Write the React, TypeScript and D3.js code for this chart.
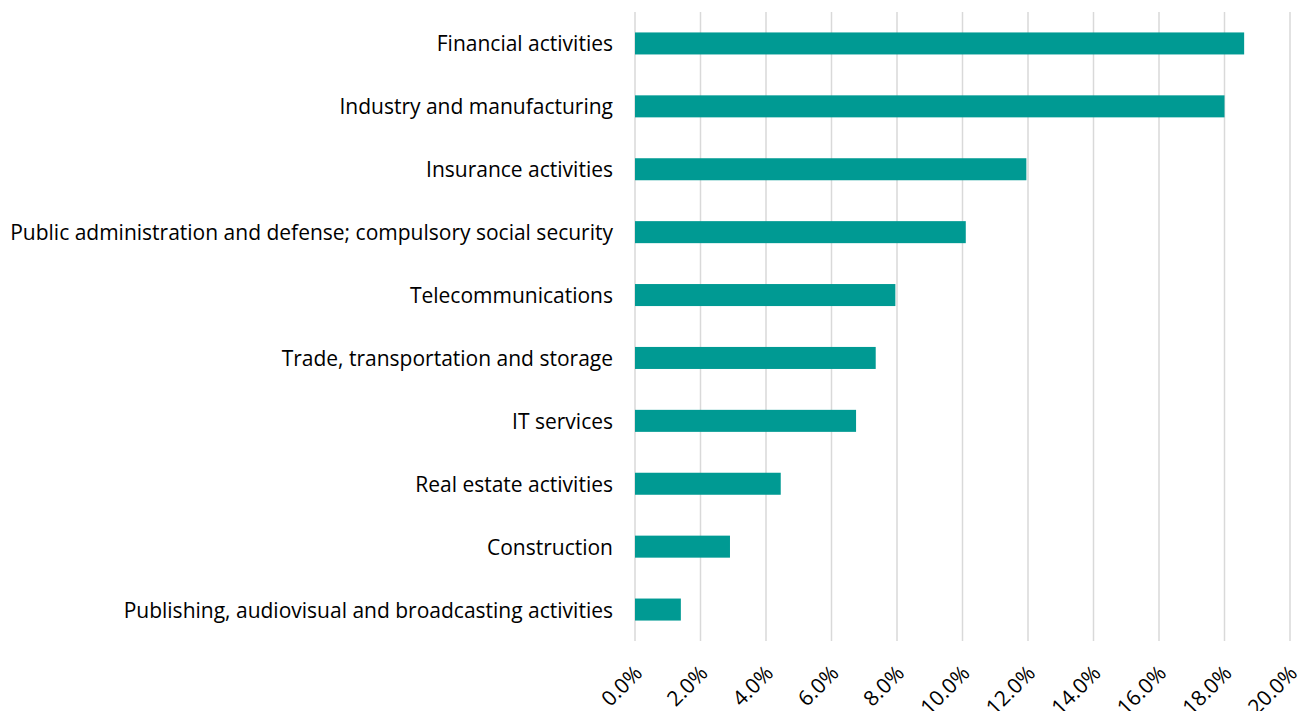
import React from 'react';
import * as d3 from 'd3';

// sectors, top to bottom
const categories = [
  'Financial activities',
  'Industry and manufacturing',
  'Insurance activities',
  'Public administration and defense; compulsory social security',
  'Telecommunications',
  'Trade, transportation and storage',
  'IT services',
  'Real estate activities',
  'Construction',
  'Publishing, audiovisual and broadcasting activities',
];

// share, in percent
const shares = [18.6, 18.0, 11.95, 10.1, 7.95, 7.35, 6.75, 4.45, 2.9, 1.4];

const xTicks = [0, 2, 4, 6, 8, 10, 12, 14, 16, 18, 20];

const width = 1308;
const height = 711;
const font = '"Open Sans", sans-serif';

const App = () => {
  const x = d3.scaleLinear().domain([0, 20]).range([635, 1290]);
  const y = d3
    .scaleBand()
    .domain(categories)
    .range([12, 641])
    .paddingInner(0.65)
    .paddingOuter(0.325);

  const data = categories.map((c, i) => ({ name: c, value: shares[i] }));

  return (
    <svg
      width={width}
      height={height}
      style={{ position: 'absolute', left: 0, top: 0, display: 'block' }}
    >
      {/* gridlines */}
      <g>
        {xTicks.map((t) => (
          <line
            key={t}
            x1={x(t)}
            x2={x(t)}
            y1={12}
            y2={641}
            stroke="#d9d9d9"
            strokeWidth={1.5}
          />
        ))}
      </g>

      {/* bars */}
      <g>
        {data.map((d) => (
          <rect
            key={d.name}
            x={x(0)}
            y={y(d.name)}
            width={x(d.value) - x(0)}
            height={y.bandwidth()}
            fill="#009a93"
          />
        ))}
      </g>

      {/* category labels */}
      <g fontFamily={font} fontSize={21} fill="#000">
        {data.map((d) => (
          <text
            key={d.name}
            x={613}
            y={(y(d.name) || 0) + y.bandwidth() / 2}
            textAnchor="end"
            dominantBaseline="central"
          >
            {d.name}
          </text>
        ))}
      </g>

      {/* x tick labels */}
      <g fontFamily={font} fontSize={21} fill="#000">
        {xTicks.map((t) => (
          <text
            key={t}
            transform={`translate(${x(t) - 4},${662}) rotate(-45)`}
            textAnchor="end"
            dominantBaseline="hanging"
          >
            {d3.format('.1f')(t) + '%'}
          </text>
        ))}
      </g>
    </svg>
  );
};

export default App;
